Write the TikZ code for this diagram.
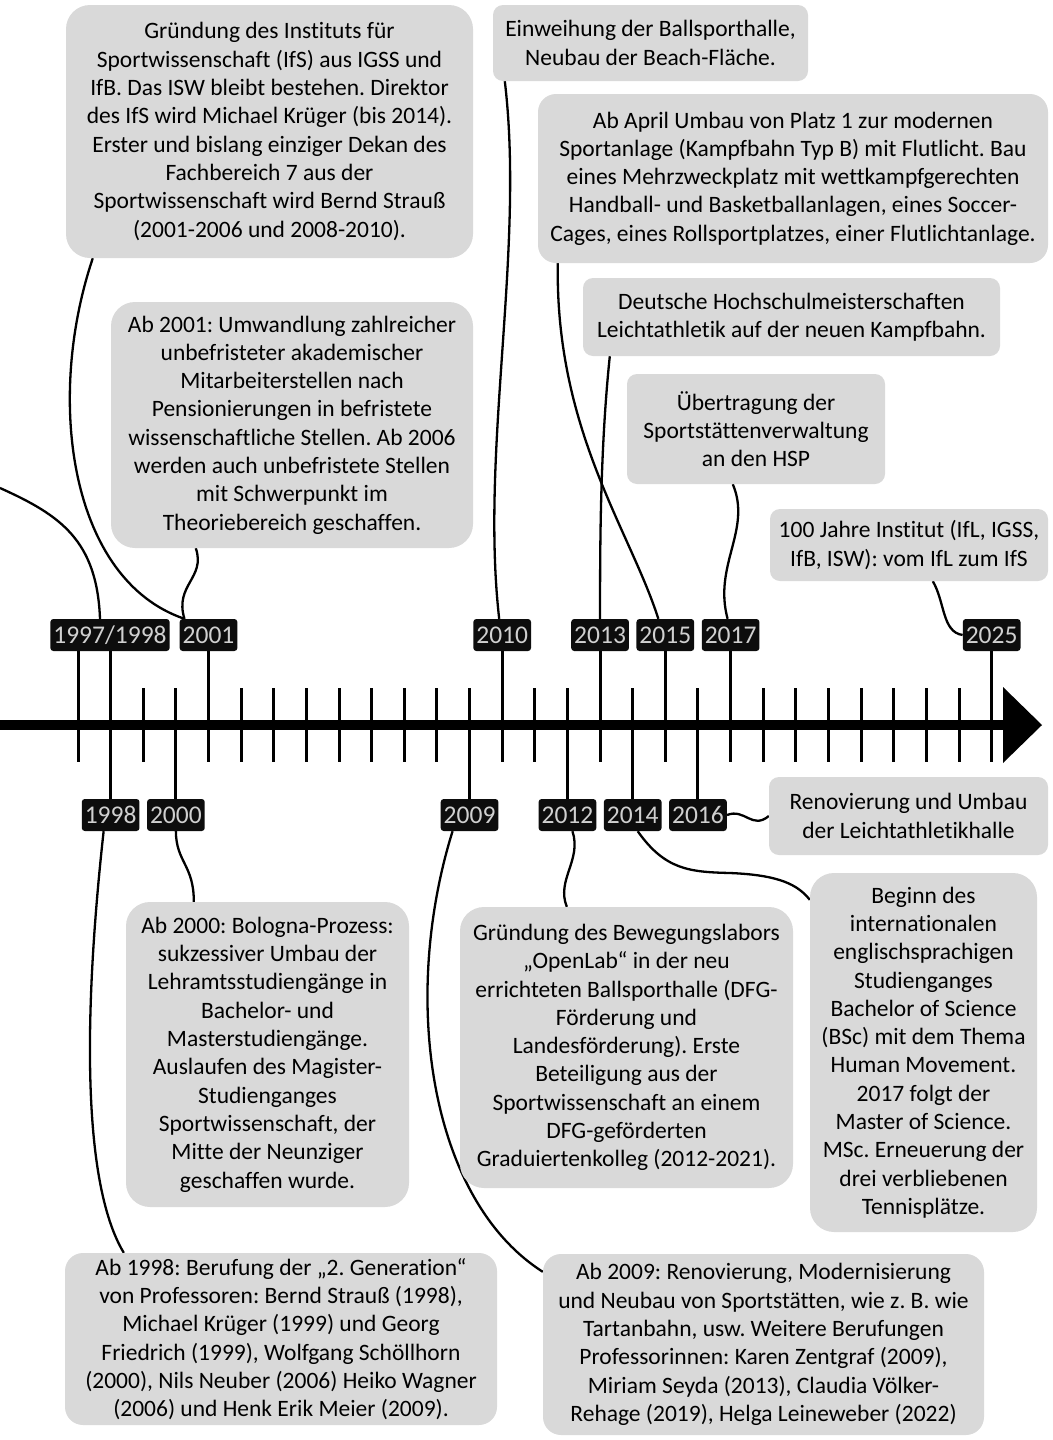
\documentclass[tikz,border=0pt]{standalone}
\usepackage{fontspec}
\setmainfont{Carlito}[Ligatures=NoCommon]
\usetikzlibrary{backgrounds}
\definecolor{evgray}{HTML}{D9D9D9}
\definecolor{yrblack}{HTML}{0D0D0D}
\definecolor{yrtext}{HTML}{D0D0D0}
\newcommand\evfont{\fontsize{23.5pt}{28.3pt}\selectfont}
\newcommand\yrfont{\fontsize{25.5pt}{28pt}\selectfont}
\frenchspacing
\begin{document}
\begin{tikzpicture}[x=1pt,y=-1pt,
  event/.style={fill=evgray, align=center, inner sep=0pt, font=\evfont, text=black},
  bigr/.style={rounded corners=24pt},
  midr/.style={rounded corners=18pt},
  smallr/.style={rounded corners=10pt},
  year/.style={fill=yrblack, text=yrtext, font=\yrfont, rounded corners=3pt,
    inner xsep=3pt, inner ysep=0pt, minimum height=32pt, text height=16pt, text depth=0pt},
  link/.style={line width=2.3pt},
  tickline/.style={line width=3pt},
]
\useasboundingbox (0,0) rectangle (1052,1440);

% ---- event boxes above the axis
\node[event,bigr,minimum width=407pt,minimum height=253pt] (A) at (269.5,131.5)
  {Gründung des Instituts für\\Sportwissenschaft (IfS) aus IGSS und\\IfB. Das ISW bleibt bestehen. Direktor\\des IfS wird Michael Krüger (bis 2014).\\Erster und bislang einziger Dekan des\\Fachbereich 7 aus der\\Sportwissenschaft wird Bernd Strauß\\(2001-2006 und 2008-2010).};
\node[event,smallr,minimum width=315pt,minimum height=76pt] (B) at (650.5,43)
  {Einweihung der Ballsporthalle,\\Neubau der Beach-Fläche.};
\node[event,midr,minimum width=510pt,minimum height=169pt] (C) at (793,178.5)
  {Ab April Umbau von Platz 1 zur modernen\\Sportanlage (Kampfbahn Typ B) mit Flutlicht. Bau\\eines Mehrzweckplatz mit wettkampfgerechten\\Handball- und Basketballanlagen, eines Soccer-\\Cages, eines Rollsportplatzes, einer Flutlichtanlage.};
\node[event,smallr,minimum width=417pt,minimum height=78pt] (D) at (791.5,317)
  {Deutsche Hochschulmeisterschaften\\Leichtathletik auf der neuen Kampfbahn.};
\node[event,smallr,minimum width=258pt,minimum height=110pt] (E) at (756,429)
  {Übertragung der\\Sportstättenverwaltung\\an den HSP};
\node[event,smallr,minimum width=278pt,minimum height=72pt] (F) at (909,545)
  {100 Jahre Institut (IfL, IGSS,\\IfB, ISW): vom IfL zum IfS};
\node[event,bigr,minimum width=362pt,minimum height=246pt] (G) at (292,425)
  {Ab 2001: Umwandlung zahlreicher\\unbefristeter akademischer\\Mitarbeiterstellen nach\\Pensionierungen in befristete\\wissenschaftliche Stellen. Ab 2006\\werden auch unbefristete Stellen\\mit Schwerpunkt im\\Theoriebereich geschaffen.};

% ---- event boxes below the axis
\node[event,smallr,minimum width=279pt,minimum height=78pt] (H) at (908.5,816)
  {Renovierung und Umbau\\der Leichtathletikhalle};
\node[event,bigr,minimum width=227pt,minimum height=359pt] (I) at (923.5,1052.5)
  {Beginn des\\internationalen\\englischsprachigen\\Studienganges\\Bachelor of Science\\(BSc) mit dem Thema\\Human Movement.\\2017 folgt der\\Master of Science.\\MSc. Erneuerung der\\drei verbliebenen\\Tennisplätze.};
\node[event,bigr,minimum width=333pt,minimum height=281pt] (J) at (626.5,1047.5)
  {Gründung des Bewegungslabors\\„OpenLab“ in der neu\\errichteten Ballsporthalle (DFG-\\Förderung und\\Landesförderung). Erste\\Beteiligung aus der\\Sportwissenschaft an einem\\DFG-geförderten\\Graduiertenkolleg (2012-2021).};
\node[event,bigr,minimum width=283pt,minimum height=305pt] (K) at (267.5,1054.5)
  {Ab 2000: Bologna-Prozess:\\sukzessiver Umbau der\\Lehramtsstudiengänge in\\Bachelor- und\\Masterstudiengänge.\\Auslaufen des Magister-\\Studienganges\\Sportwissenschaft, der\\Mitte der Neunziger\\geschaffen wurde.};
\node[event,midr,minimum width=432pt,minimum height=172pt] (L) at (281,1339)
  {Ab 1998: Berufung der „2. Generation“\\von Professoren: Bernd Strauß (1998),\\Michael Krüger (1999) und Georg\\Friedrich (1999), Wolfgang Schöllhorn\\(2000), Nils Neuber (2006) Heiko Wagner\\(2006) und Henk Erik Meier (2009).};
\node[event,midr,minimum width=441pt,minimum height=181pt] (M) at (763.5,1344.5)
  {Ab 2009: Renovierung, Modernisierung\\und Neubau von Sportstätten, wie z. B. wie\\Tartanbahn, usw. Weitere Berufungen\\Professorinnen: Karen Zentgraf (2009),\\Miriam Seyda (2013), Claudia Völker-\\Rehage (2019), Helga Leineweber (2022)};

% ---- year labels
\node[year] (y1997) at (110,635) {1997/1998};
\node[year] (y2001) at (208.52,635) {2001};
\node[year] (y2010) at (502.19,635) {2010};
\node[year] (y2013) at (600.08,635) {2013};
\node[year] (y2015) at (665.34,635) {2015};
\node[year] (y2017) at (730.60,635) {2017};
\node[year] (y2025) at (991.64,635) {2025};
\node[year] (y1998) at (110.63,815) {1998};
\node[year] (y2000) at (175.89,815) {2000};
\node[year] (y2009) at (469.56,815) {2009};
\node[year] (y2012) at (567.45,815) {2012};
\node[year] (y2014) at (632.71,815) {2014};
\node[year] (y2016) at (697.97,815) {2016};

\coordinate (ticktop) at (0,688);
\coordinate (tickbot) at (0,762);
\coordinate (x1997) at (78,725);
\coordinate (offL) at (0,488);

\begin{scope}[on background layer]
  % time axis with arrow head
  \draw[line width=10pt] (0,725) -- (1004,725);
  \fill (1003,687) -- (1042,725) -- (1003,763) -- cycle;
  % yearly ticks
  \foreach \i in {0,...,28}
    \draw[tickline] ({78+\i*32.63},688) -- ({78+\i*32.63},762);
  % year lines to the labels above
  \draw[tickline] (x1997 |- y1997.south) -- (x1997 |- tickbot);
  \foreach \n in {y2001,y2010,y2013,y2015,y2017,y2025}
    \draw[tickline] (\n.south) -- (\n.south |- tickbot);
  % year lines to the labels below
  \draw[tickline] (y1998.north) -- (y1998.north |- y1997.south);
  \foreach \n in {y2000,y2009,y2012,y2014,y2016}
    \draw[tickline] (\n.north) -- (\n.north |- ticktop);

  % connectors above the axis
  \draw[link] (offL) .. controls (60,515) and (97,540) .. ([xshift=-10pt]y1997.north);
  \draw[link] ([xshift=27pt]A.south west) .. controls (45,400) and (70,580) .. ([xshift=5pt]y2001.north west);
  \draw[link] ([xshift=85pt]G.south west) .. controls (206,578) and (174,585) .. ([xshift=5pt]y2001.north west);
  \draw[link] ([xshift=12pt]B.south west) .. controls (525,250) and (480,450) .. ([xshift=-3pt]y2010.north);
  \draw[link] ([xshift=20pt]C.south west) .. controls (555,430) and (630,530) .. ([xshift=-7pt]y2015.north);
  \draw[link] ([xshift=27pt]D.south west) .. controls (600,450) and (600,550) .. (y2013.north);
  \draw[link] ([xshift=106pt]E.south west) .. controls (752,530) and (713,565) .. ([xshift=-3pt]y2017.north);
  \draw[link] ([xshift=163pt]F.south west) .. controls (945,602) and (942,632) .. (y2025.west);

  % connectors below the axis
  \draw[link] (y2016.east) .. controls (745,808) and (752,830) .. (H.west);
  \draw[link] ([xshift=5pt]y2014.south) .. controls (665,870) and (690,872) .. (730,873)
    .. controls (780,875) and (798,885) .. ([yshift=-27pt]I.north west);
  \draw[link] ([xshift=5pt]y2012.south) .. controls (582,860) and (556,880) .. ([xshift=107pt]J.north west);
  \draw[link] (y2000.south) .. controls (176,862) and (194,865) .. ([xshift=68pt]K.north west);
  \draw[link] ([xshift=-7pt]y1998.south) .. controls (85,1000) and (80,1180) .. ([xshift=59pt]L.north west);
  \draw[link] ([xshift=-17pt]y2009.south) .. controls (400,1000) and (430,1200) .. ([yshift=-18pt]M.north west);
\end{scope}
\end{tikzpicture}
\end{document}
